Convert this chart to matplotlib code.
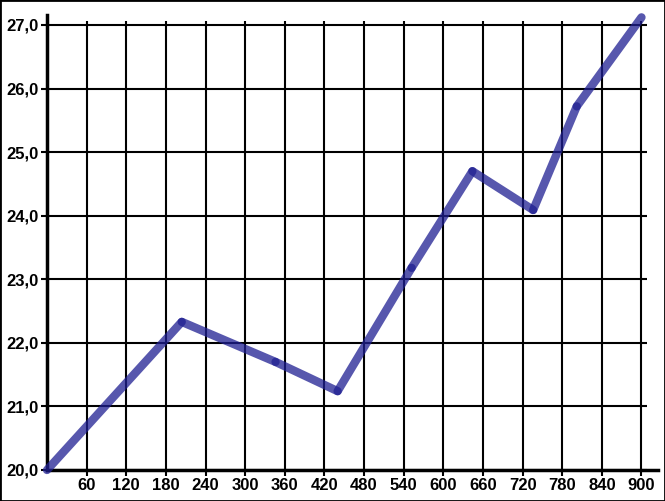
import matplotlib
matplotlib.use("Agg")
import matplotlib.pyplot as plt
from matplotlib.patches import Rectangle

# data
x_vals = [0, 204, 346, 440, 552, 644, 736, 802, 900]
y_vals = [20.0, 22.33, 21.70, 21.24, 23.18, 24.70, 24.09, 25.72, 27.12]
x_ticks = [60, 120, 180, 240, 300, 360, 420, 480, 540, 600, 660, 720, 780, 840, 900]
y_ticks = [20, 21, 22, 23, 24, 25, 26, 27]
y_labels = ["20,0", "21,0", "22,0", "23,0", "24,0", "25,0", "26,0", "27,0"]

plt.rcParams['font.family'] = ['Liberation Sans', 'DejaVu Sans']

fig = plt.figure(figsize=(6.65, 5.01), dpi=100)
ax = fig.add_axes([47/665, 31/501, (658-47)/665, (470-15)/501])
ax.set_xlim(0, 925)
ax.set_ylim(20, 27.157)

# grid
ax.hlines(y_ticks, 0, 908, colors='black', linewidth=1.5, zorder=1)
ax.vlines(x_ticks, 20, 27.07, colors='black', linewidth=1.5, zorder=1)

# line as separate semi-transparent segments
for i in range(len(x_vals) - 1):
    ax.plot(x_vals[i:i+2], y_vals[i:i+2], color='#1f1f92', alpha=0.75,
            linewidth=6, solid_capstyle='round', zorder=3, clip_on=False)

for s in ['top', 'right']:
    ax.spines[s].set_visible(False)
ax.spines['left'].set_linewidth(2.5)
ax.spines['bottom'].set_linewidth(2.5)

ax.set_xticks(x_ticks)
ax.set_xticklabels([str(v) for v in x_ticks], fontsize=12, fontweight='bold')
ax.set_yticks(y_ticks)
ax.set_yticklabels(y_labels, fontsize=12, fontweight='bold')
ax.tick_params(axis='both', length=4, width=1.5, pad=2, colors='black')

fig.patches.append(Rectangle((0, 0), 1, 1, transform=fig.transFigure,
                             fill=False, edgecolor='black', linewidth=2))

fig.savefig("out.png", dpi=100)
